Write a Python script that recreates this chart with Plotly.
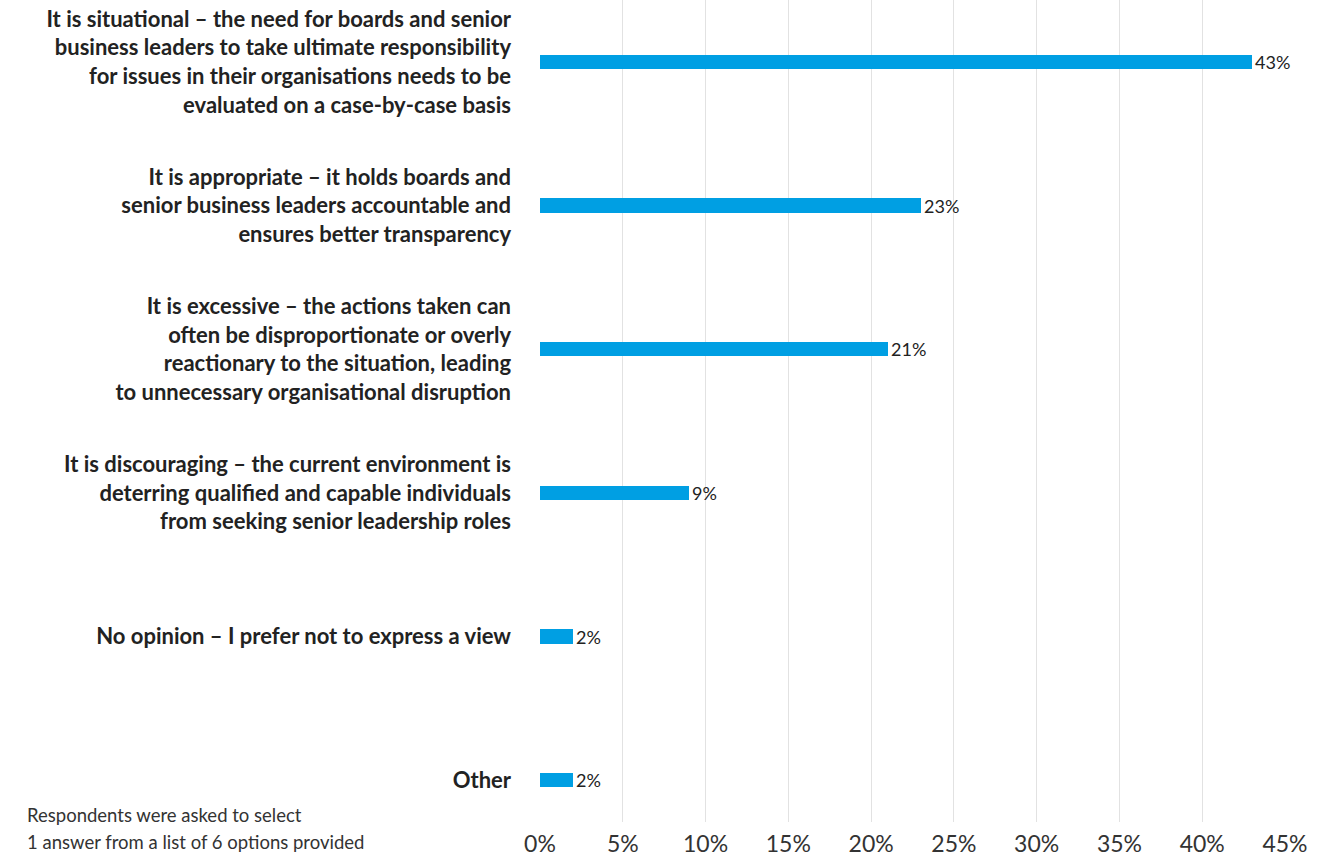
import plotly.graph_objects as go

# Survey answers, listed top to bottom
categories = [
    "It is situational – the need for boards and senior<br>business leaders to take ultimate responsibility<br>for issues in their organisations needs to be<br>evaluated on a case-by-case basis",
    "It is appropriate – it holds boards and<br>senior business leaders accountable and<br>ensures better transparency",
    "It is excessive – the actions taken can<br>often be disproportionate or overly<br>reactionary to the situation, leading<br>to unnecessary organisational disruption",
    "It is discouraging – the current environment is<br>deterring qualified and capable individuals<br>from seeking senior leadership roles",
    "No opinion – I prefer not to express a view",
    "Other",
]
shares = [43, 23, 21, 9, 2, 2]
x_ticks = [0, 5, 10, 15, 20, 25, 30, 35, 40, 45]
x_tick_labels = [f"{v}%" for v in x_ticks]
note_lines = ["Respondents were asked to select", "1 answer from a list of 6 options provided"]

FONT = "Lato"
BLUE = "#009FE3"

fig = go.Figure(
    go.Bar(
        y=categories,
        x=shares,
        orientation="h",
        width=0.1,
        marker=dict(color=BLUE, line=dict(width=0)),
        text=[f"{v}%" for v in shares],
        textposition="outside",
        constraintext="none",
        textfont=dict(family=FONT, size=18, color="#222222"),
        cliponaxis=False,
        hoverinfo="skip",
    )
)

fig.update_layout(
    width=1338,
    height=856,
    margin=dict(l=540, r=53, t=0, b=34),
    paper_bgcolor="white",
    plot_bgcolor="white",
    showlegend=False,
    font=dict(family=FONT, color="#222222"),
    bargap=0,
)

fig.update_xaxes(
    range=[0, 45],
    tickvals=x_ticks,
    ticktext=x_tick_labels,
    tickfont=dict(family=FONT, size=23, color="#333333"),
    ticklabelstandoff=6,
    automargin=False,
    showgrid=True,
    gridcolor="#e2e2e2",
    gridwidth=1,
    zeroline=False,
    showline=False,
    ticks="",
    fixedrange=True,
)

fig.update_yaxes(
    categoryorder="array",
    categoryarray=categories,
    range=[5.292, -0.432],
    tickfont=dict(family=FONT, size=22, color="#222222", weight="bold"),
    ticklabelstandoff=28,
    automargin=False,
    showgrid=False,
    zeroline=False,
    showline=False,
    ticks="",
    fixedrange=True,
)

# Footnote, one annotation per line (pixel offsets below the plot area)
for line, y_px in zip(note_lines, [815, 842]):
    fig.add_annotation(
        text=line,
        xref="paper",
        yref="paper",
        x=(25 - 540) / 745,
        y=(822 - y_px) / 822,
        xanchor="left",
        yanchor="middle",
        align="left",
        showarrow=False,
        font=dict(family=FONT, size=18.5, color="#333333"),
    )

fig.write_html("out.html")
